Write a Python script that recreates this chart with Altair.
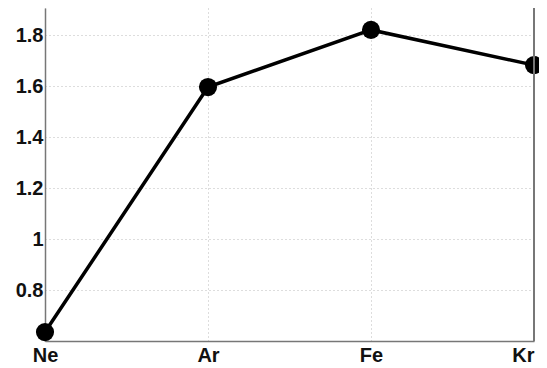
import altair as alt
import pandas as pd

elements = ["Ne", "Ar", "Fe", "Kr"]
values = [0.635, 1.596, 1.82, 1.682]
y_ticks = [0.8, 1.0, 1.2, 1.4, 1.6, 1.8]

df = pd.DataFrame({"element": elements, "value": values})

W, H = 489, 333
FONT = "Liberation Sans"

x_enc = alt.X("element:N", sort=elements,
              scale=alt.Scale(type="point", padding=0),
              axis=alt.Axis(title=None, labelAngle=0, labelFont=FONT,
                            labelFontWeight="bold", labelFontSize=20, labelColor="#111",
                            labelPadding=4, ticks=False, domainColor="#777", domainWidth=1.5,
                            labelAlign={"condition": {"test": "datum.value === 'Kr'", "value": "right"}, "value": "center"},
                            grid=True, gridColor="#bbb", gridDash=[1, 3], gridWidth=1))
y_enc = alt.Y("value:Q", scale=alt.Scale(domain=[0.6, 1.906], nice=False, zero=False),
              axis=alt.Axis(title=None, values=y_ticks, format="~g", labelFont=FONT,
                            labelFontWeight="bold", labelFontSize=20, labelColor="#111",
                            labelPadding=2, ticks=False, domainColor="#777", domainWidth=1.5,
                            grid=True, gridColor="#bbb", gridDash=[1, 3], gridWidth=1))

line = alt.Chart(df).mark_line(color="black", strokeWidth=3.5).encode(x=x_enc, y=y_enc)
pts = alt.Chart(df).mark_point(filled=True, color="black", size=330, opacity=1).encode(x=x_enc, y=y_enc)
right = alt.Chart(df).mark_rule(color="#777", strokeWidth=1.5).encode(
    x=alt.value(W), y=alt.value(0), y2=alt.value(H))

chart = alt.layer(line, pts, right).properties(
    width=W, height=H,
    autosize=alt.AutoSizeParams(type="none"),
    padding={"left": 37, "top": 0, "right": 5, "bottom": 27},
).configure_view(stroke=None)

chart.save("out.html", embed_options={"renderer": "svg", "actions": False})
